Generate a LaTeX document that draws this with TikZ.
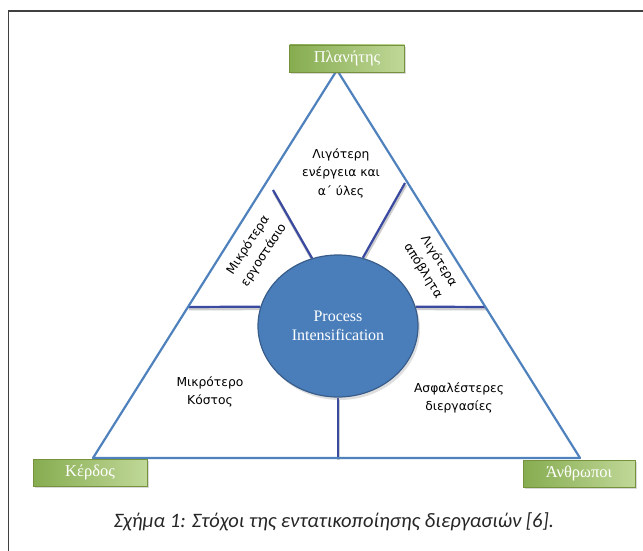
\documentclass[tikz,border=0pt]{standalone}
\usepackage{fontspec}
\setmainfont{Liberation Serif}
\newfontfamily\greeksans{DejaVu Sans}
\newfontfamily\capfont{Carlito}
\usetikzlibrary{shapes.geometric, shadows, backgrounds}
\definecolor{triblue}{RGB}{79,129,189}
\definecolor{divblue}{RGB}{58,74,160}
\definecolor{pifill}{RGB}{74,126,187}
\definecolor{piborder}{RGB}{56,93,138}
\definecolor{boxdark}{RGB}{134,172,80}
\definecolor{boxlight}{RGB}{192,216,152}
\definecolor{boxborder}{RGB}{118,146,60}
\definecolor{framegray}{RGB}{64,64,64}
\tikzstyle{corner} = [rectangle, minimum width=115pt, minimum height=27pt, draw=boxborder, line width=0.8pt,
                      left color=boxdark, right color=boxlight, text=white, font=\fontsize{16.5}{18}\selectfont,
                      drop shadow={opacity=0.3, shadow xshift=1.5pt, shadow yshift=-2pt}]
\tikzstyle{core} = [ellipse, minimum width=160pt, minimum height=142pt, fill=pifill, draw=piborder, line width=1.2pt,
                    text=white, align=center, font=\fontsize{16}{18.5}\selectfont,
                    drop shadow={opacity=0.25, shadow xshift=2pt, shadow yshift=-3pt}]
\tikzstyle{goal} = [align=center, font=\greeksans\fontsize{12.3}{18.5}\selectfont]
\tikzstyle{divider} = [draw=divblue, line width=2.2pt,
                       preaction={draw=black!20, line width=3pt, transform canvas={shift={(0.8pt,-2pt)}}}]

\begin{document}
\begin{tikzpicture}[x=1pt, y=-1pt]
\useasboundingbox (0,0) rectangle (643,551);

% Frame
\draw[framegray, line width=1.3pt] (8.5,551) -- (8.5,11) -- (643,11);

% Triangle
\coordinate (apex) at (337,70);
\coordinate (kerdos-c) at (93,458);
\coordinate (anthropoi-c) at (580,458);
\draw[triblue, line width=2.2pt, line join=round] (apex) -- (kerdos-c) -- (anthropoi-c) -- cycle;

% Divider ends
\coordinate (cut-l) at (188,307);
\coordinate (cut-r) at (486,307);
\coordinate (cut-b) at (338,458);
\coordinate (cut-ul) at (273,190);
\coordinate (cut-ur) at (405,183);

% Core
\node[core] (pi) at (338,326) {Process\\Intensification};

% Dividers
\begin{scope}[on background layer]
\draw[divider] (cut-l) -- (pi.166);
\draw[divider] (cut-r) -- (pi.14);
\draw[divider] (cut-b) -- (pi.south);
\draw[divider] (cut-ul) -- (pi.111);
\draw[divider] (cut-ur) -- (pi.70);
\end{scope}

% Corners
\node[corner] (planitis) at (347,58.5) {Πλανήτης};
\node[corner, minimum width=114pt] (kerdos) at (90,472.5) {Κέρδος};
\node[corner, minimum width=112pt] (anthropoi) at (579,473.5) {Άνθρωποι};

% Goals
\node[goal] (energy) at (341,173) {Λιγότερη\\ενέργεια και\\α΄ ύλες};
\node[goal, rotate=57] (plant) at (256,250) {Μικρότερα\\εργοστάσιο};
\node[goal, rotate=-58] (waste) at (431,266) {Λιγότερα\\απόβλητα};
\node[goal] (cost) at (210,392) {Μικρότερο\\Κόστος};
\node[goal] (safety) at (459,398) {Ασφαλέστερες\\διεργασίες};

% Caption
\node[font=\capfont\itshape\fontsize{20.5}{24}\selectfont, text=black!85] (caption) at (334,522)
    {Σχήμα 1: Στόχοι της εντατικοποίησης διεργασιών [6].};

\end{tikzpicture}
\end{document}
